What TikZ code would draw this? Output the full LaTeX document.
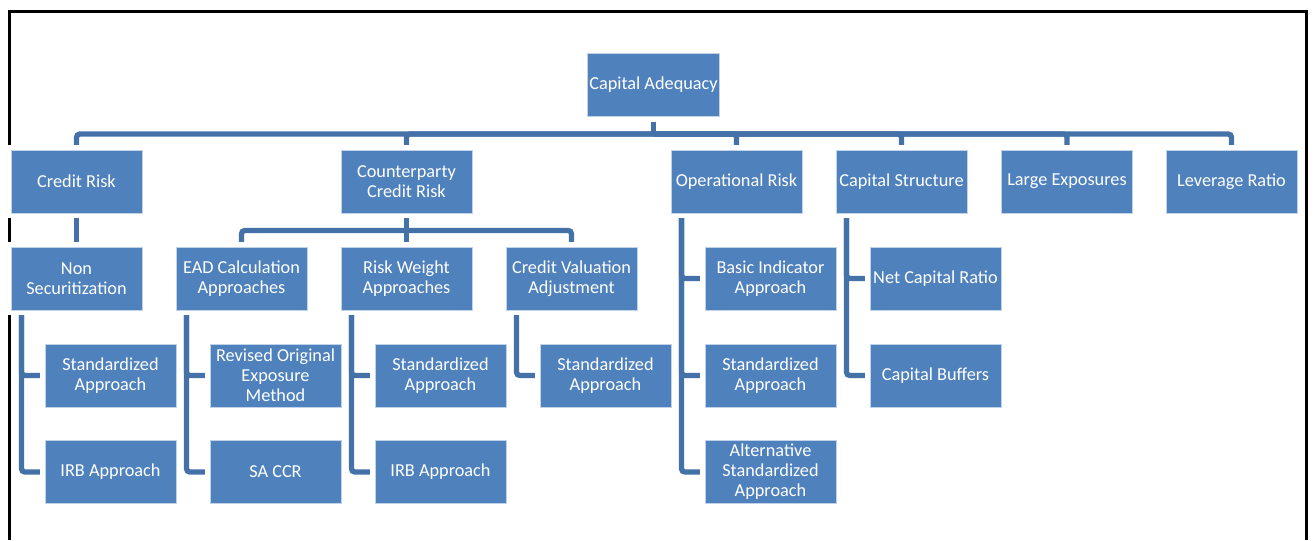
\documentclass[tikz,border=0pt]{standalone}
\usepackage{fontspec}
\setmainfont{Carlito}
\usetikzlibrary{backgrounds,calc}
\definecolor{boxblue}{RGB}{79,129,189}
\definecolor{linkblue}{RGB}{68,114,168}
\begin{document}
\begin{tikzpicture}[x=0.75pt,y=-0.75pt,
  box/.style={preaction={draw=white,line width=7.5pt}, fill=boxblue, draw=white!65!boxblue,
    line width=0.75pt, minimum width=98.25pt, minimum height=47.25pt, inner sep=1pt,
    align=center, text=white, font=\fontsize{13.7}{15}\selectfont},
  conn/.style={draw=linkblue, line width=4pt, rounded corners=2.5pt},
  frame/.style={draw=black, line width=2.25pt}]
\useasboundingbox (0,0) rectangle (1314,540);
\draw[frame] (9.5,540) -- (9.5,11) -- (1306,11) -- (1306,540);
% level 0
\node[box] (ca) at (653.5,85) {Capital Adequacy};
% level 1
\node[box] (cr)  at (76.5,181.5)  {Credit Risk};
\node[box] (ccr) at (406.5,181.5) {Counterparty\\Credit Risk};
\node[box] (opr) at (736.5,181.5) {Operational Risk};
\node[box] (cs)  at (901.5,181.5) {Capital Structure};
\node[box] (le)  at (1067,181.5)  {Large Exposures};
\node[box] (lr)  at (1231.5,181.5){Leverage Ratio};
% level 2
\node[box] (ns)  at (76.5,278.5)  {Non\\Securitization};
\node[box] (ead) at (241.5,278.5) {EAD Calculation\\Approaches};
\node[box] (rw)  at (406.5,278.5) {Risk Weight\\Approaches};
\node[box] (cva) at (571.5,278.5) {Credit Valuation\\Adjustment};
\node[box] (bia) at (770.5,278.5) {Basic Indicator\\Approach};
\node[box] (ncr) at (935.5,278.5) {Net Capital Ratio};
% level 3
\node[box] (sa1)  at (110.5,375.5) {Standardized\\Approach};
\node[box] (roem) at (275.5,375.5) {Revised Original\\Exposure\\Method};
\node[box] (sa2)  at (440.5,375.5) {Standardized\\Approach};
\node[box] (sa3)  at (605.5,375.5) {Standardized\\Approach};
\node[box] (sa4)  at (770.5,375.5) {Standardized\\Approach};
\node[box] (cb)   at (935.5,375.5) {Capital Buffers};
% level 4
\node[box] (irb1) at (110.5,472) {IRB Approach};
\node[box] (sacr) at (275.5,472) {SA CCR};
\node[box] (irb2) at (440.5,472) {IRB Approach};
\node[box] (asa)  at (770.5,472) {Alternative\\Standardized\\Approach};
\begin{pgfonlayer}{background}
  \coordinate (bar) at (0,134);
  \draw[conn] (ca.south) -- (ca.south |- bar);
  \foreach \n in {cr,ccr,opr,cs,le,lr} \draw[conn] (ca.south |- bar) -| (\n.north);
  \coordinate (bar2) at (0,230.5);
  \draw[conn] (ccr.south) -- (rw.north);
  \foreach \n in {ead,cva} \draw[conn] (ccr.south |- bar2) -| (\n.north);
  \draw[conn] (cr.south) -- (ns.north);
  \coordinate (nsS)  at ($(ns.south west)+(11,0)$);
  \coordinate (eadS) at ($(ead.south west)+(11,0)$);
  \coordinate (rwS)  at ($(rw.south west)+(11,0)$);
  \coordinate (cvaS) at ($(cva.south west)+(11,0)$);
  \coordinate (oprS) at ($(opr.south west)+(11,0)$);
  \coordinate (csS)  at ($(cs.south west)+(11,0)$);
  \draw[conn] (nsS) |- (sa1.west);  \draw[conn] (nsS) |- (irb1.west);
  \draw[conn] (eadS) |- (roem.west); \draw[conn] (eadS) |- (sacr.west);
  \draw[conn] (rwS) |- (sa2.west);  \draw[conn] (rwS) |- (irb2.west);
  \draw[conn] (cvaS) |- (sa3.west);
  \draw[conn] (oprS) |- (bia.west); \draw[conn] (oprS) |- (sa4.west); \draw[conn] (oprS) |- (asa.west);
  \draw[conn] (csS) |- (ncr.west);  \draw[conn] (csS) |- (cb.west);
\end{pgfonlayer}
\end{tikzpicture}
\end{document}
